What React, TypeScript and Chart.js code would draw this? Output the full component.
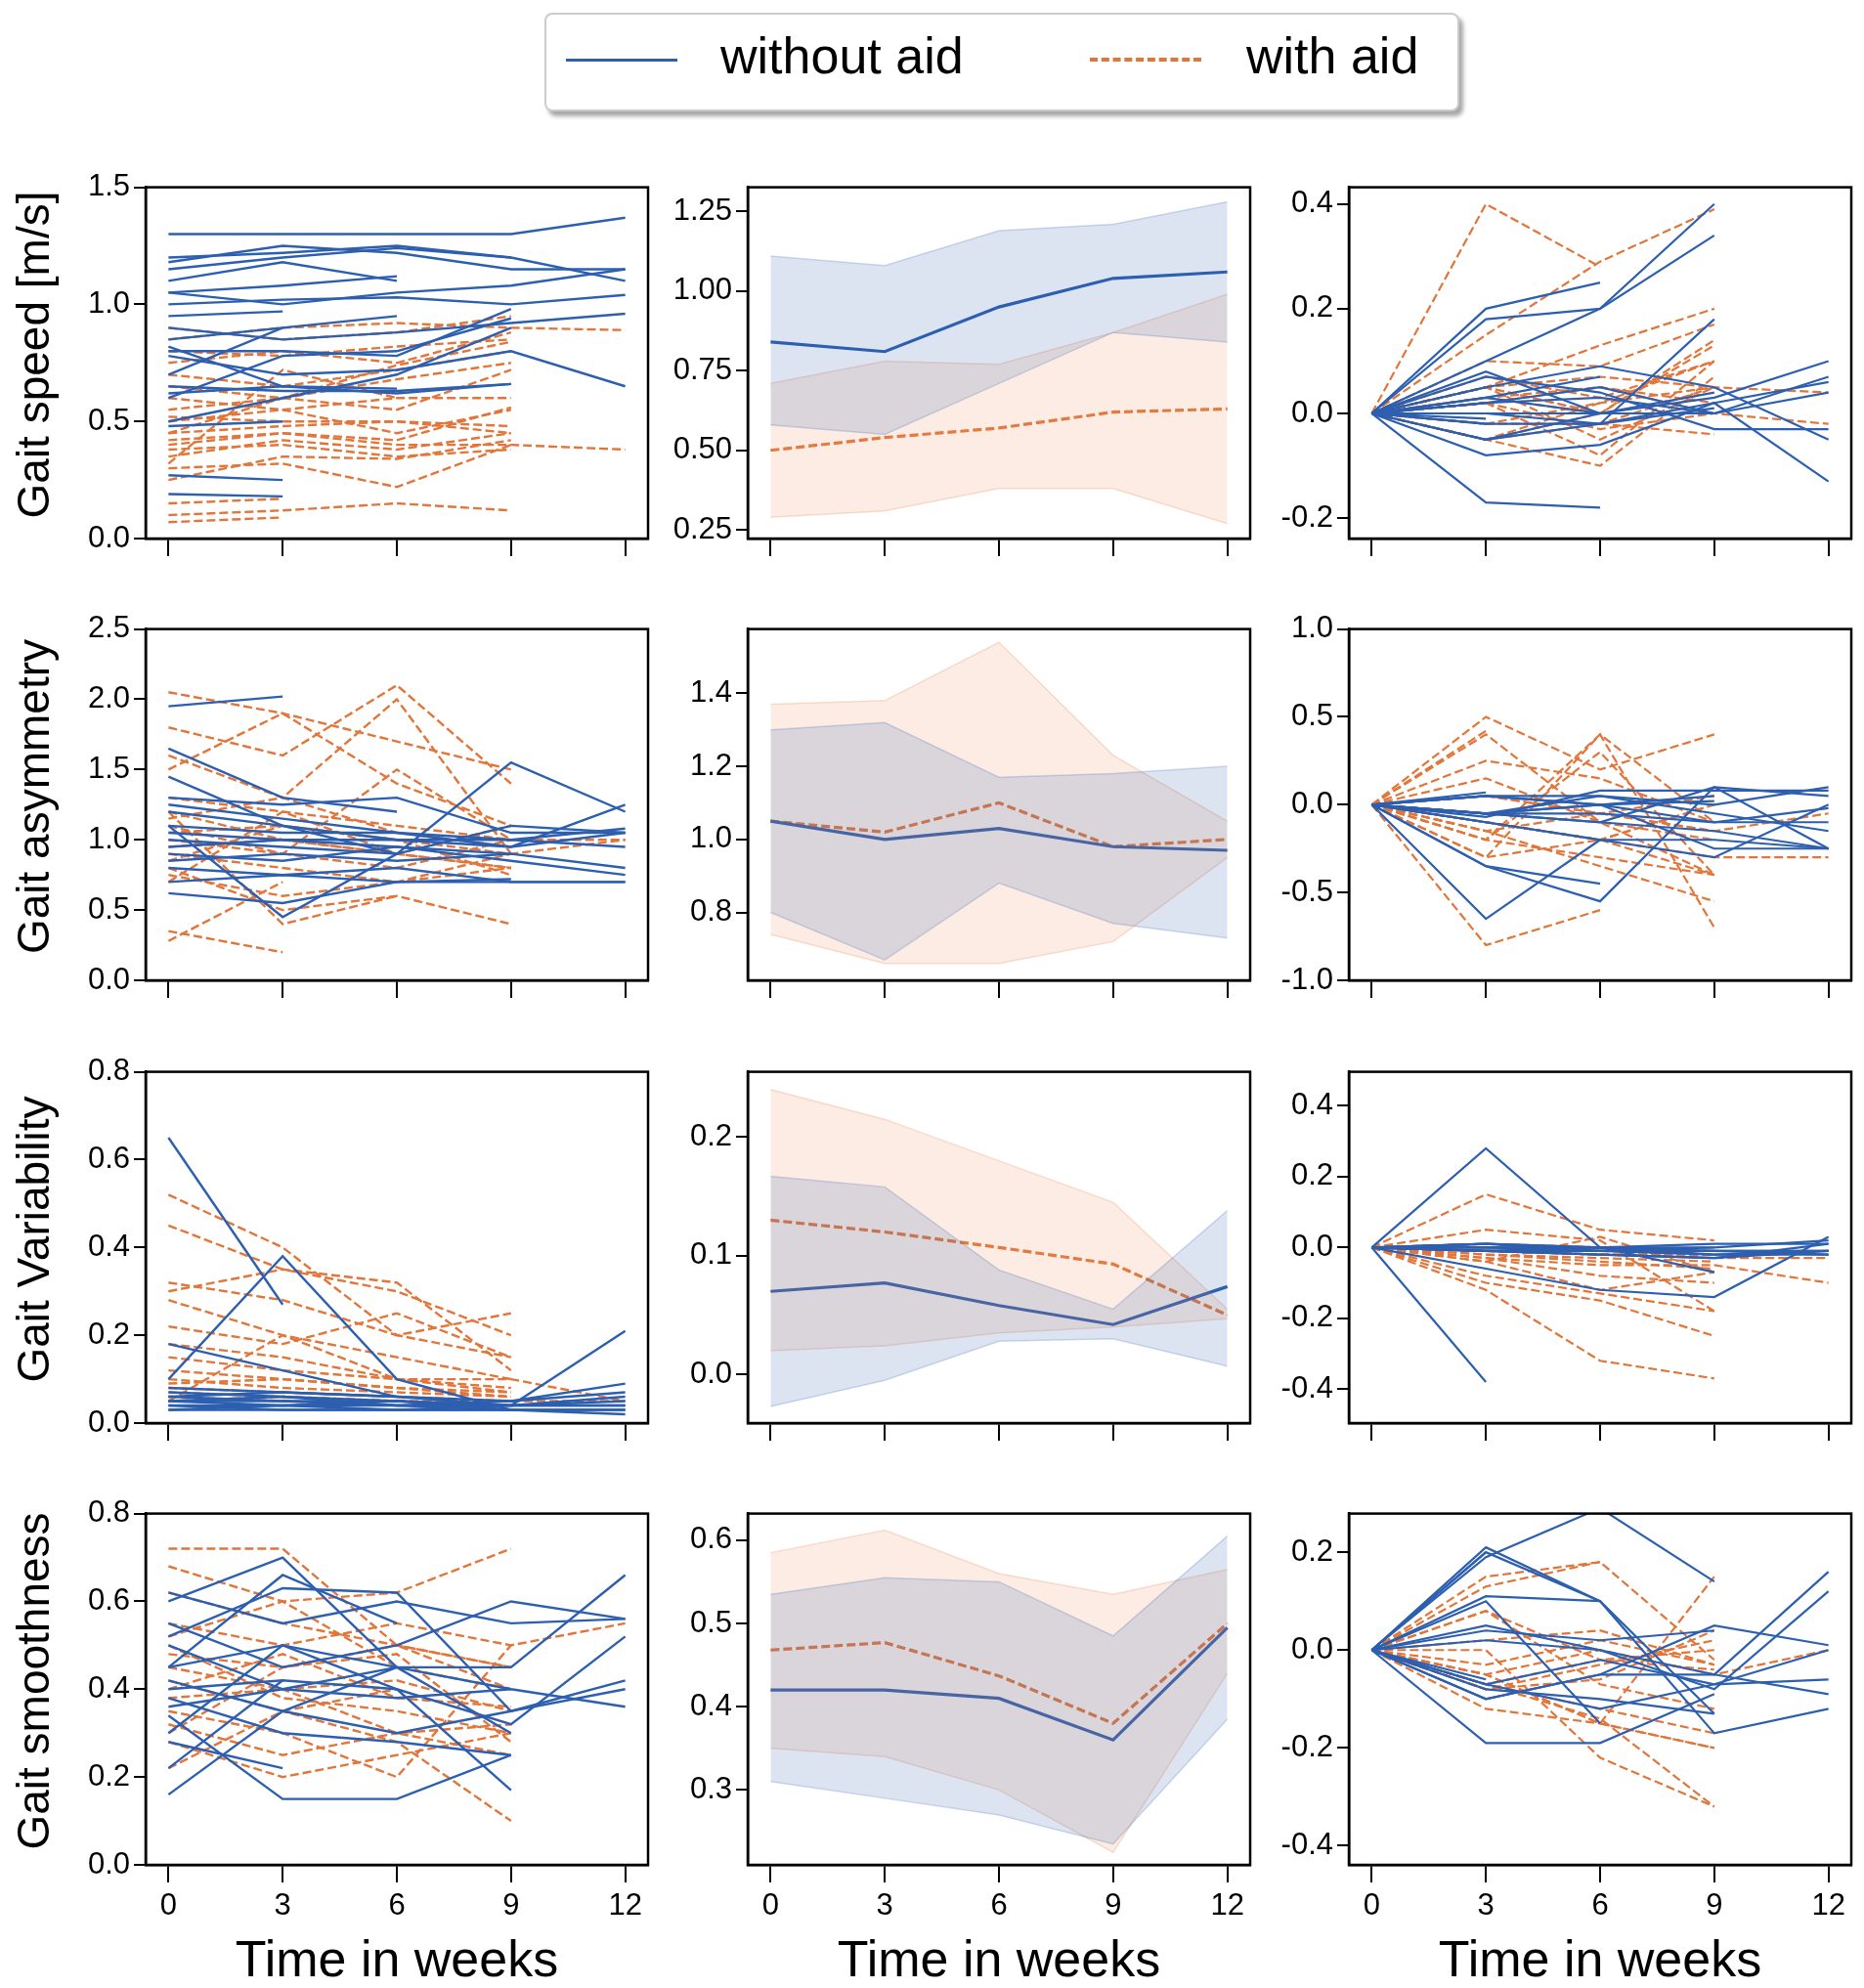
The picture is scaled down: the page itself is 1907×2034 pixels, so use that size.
import React, { useEffect, useRef } from "react";
import { Chart, registerables } from "chart.js";
Chart.register(...registerables);

const weeks = [0, 3, 6, 9, 12];
type Row = (number | null)[];

const speedBlue: Row[] = [
  [1.3,1.3,1.3,1.3,1.37],[1.2,1.22,1.25,1.2,null],[1.18,1.25,1.22,1.15,1.15],[1.15,1.2,1.24,1.2,1.1],
  [1.1,1.18,1.1,null,null],[1.05,1.08,1.12,null,null],[1.05,1.0,1.05,1.08,1.15],[1.0,1.02,1.03,1.0,1.04],
  [0.95,0.97,null,null,null],[0.9,0.85,0.88,0.92,0.96],[0.85,0.9,null,null,null],[0.8,0.8,0.78,0.98,null],
  [0.78,0.7,0.72,0.8,0.65],[0.65,0.63,0.63,0.66,null],[0.62,0.65,0.62,0.66,null],[0.5,0.6,0.7,0.9,null],
  [0.48,0.5,null,null,null],[0.27,0.25,null,null,null],[0.19,0.18,null,null,null],[0.7,0.9,0.95,null,null],
  [0.6,0.78,0.8,0.94,null],[0.82,0.65,0.64,null,null]];
const speedOrange: Row[] = [
  [0.9,0.85,0.88,0.95,null],[0.85,0.9,0.92,0.9,0.89],[0.8,0.78,0.82,0.85,null],[0.75,0.8,0.75,0.88,null],
  [0.7,0.65,0.72,0.8,null],[0.65,0.6,0.55,0.72,null],[0.6,0.55,0.6,0.6,null],[0.55,0.6,0.68,0.75,null],
  [0.52,0.5,0.5,0.48,null],[0.5,0.55,0.45,0.55,null],[0.45,0.48,0.5,0.45,null],[0.42,0.45,0.42,0.56,null],
  [0.4,0.45,0.4,0.4,0.38],[0.38,0.4,0.35,0.38,null],[0.35,0.42,0.38,0.45,null],[0.3,0.32,0.22,0.4,null],
  [0.25,0.35,0.34,0.42,null],[0.15,0.17,null,null,null],[0.1,0.12,0.15,0.12,null],[0.07,0.09,null,null,null],
  [0.32,0.72,0.6,null,null],[0.45,0.6,0.74,0.84,null]];
const asymBlue: Row[] = [
  [1.95,2.02,null,null,null],[1.65,1.3,1.2,null,null],[1.45,1.1,0.9,1.55,1.2],[1.3,1.25,1.3,1.05,1.05],
  [1.2,1.1,1.0,1.0,0.95],[1.1,1.05,1.05,1.0,1.08],[1.05,1.0,0.95,0.9,0.8],[1.0,0.95,0.9,1.1,1.05],
  [0.95,1.0,1.0,0.95,1.05],[0.9,0.85,0.95,0.85,0.75],[0.85,0.9,0.85,0.9,null],[0.8,0.75,0.8,0.7,0.7],
  [1.1,0.45,0.9,null,null],[0.7,0.75,0.7,0.72,null],[0.62,0.55,0.7,0.7,0.7],[1.25,1.15,1.05,0.95,1.25]];
const asymOrange: Row[] = [
  [2.05,1.9,1.7,1.5,null],[1.8,1.6,2.1,1.4,null],[1.6,1.3,2.0,0.9,null],[1.5,1.9,1.4,1.1,null],
  [1.3,1.2,1.1,1.0,1.0],[1.2,1.0,0.9,0.8,null],[1.1,0.9,1.5,1.0,null],[1.05,1.1,1.0,0.9,1.0],
  [1.0,0.9,0.8,1.0,null],[0.95,1.0,0.9,0.8,null],[0.9,0.8,0.7,0.9,null],[0.85,1.1,1.0,0.75,null],
  [0.8,0.5,0.6,0.4,null],[0.75,0.6,0.7,0.8,null],[0.7,1.2,0.9,1.1,null],[0.35,0.2,null,null,null],
  [0.28,0.7,null,null,null],[1.2,0.4,0.6,null,null],[1.15,1.3,1.05,0.95,null]];
const varBlue: Row[] = [
  [0.65,0.27,null,null,null],[0.1,0.38,0.1,0.03,null],[0.18,0.12,0.06,0.04,0.21],[0.08,0.07,0.06,0.05,0.09],
  [0.07,0.06,0.05,0.04,0.06],[0.06,0.05,0.05,0.04,0.05],[0.05,0.05,0.04,0.04,0.04],[0.05,0.04,0.05,0.03,0.03],
  [0.04,0.04,0.04,0.03,0.03],[0.04,0.03,0.03,0.03,0.02],[0.03,0.03,0.03,0.03,null],[0.06,0.07,0.06,null,null],
  [0.05,0.06,0.04,0.05,0.07],[0.03,0.04,0.03,0.04,0.04]];
const varOrange: Row[] = [
  [0.52,0.4,0.2,0.15,null],[0.45,0.35,0.3,0.2,null],[0.32,0.28,0.2,0.25,null],[0.3,0.35,0.32,0.12,null],
  [0.28,0.2,0.15,0.1,null],[0.22,0.18,0.25,0.15,null],[0.18,0.15,0.1,0.08,null],[0.15,0.12,0.1,0.1,0.05],
  [0.12,0.1,0.08,0.06,null],[0.1,0.08,0.07,0.06,null],[0.08,0.07,0.06,0.05,0.05],[0.07,0.06,0.05,0.05,null],
  [0.06,0.05,0.04,0.04,null],[0.05,0.06,0.05,0.04,null],[0.05,0.2,0.1,0.07,null],[0.09,0.1,0.08,0.07,null]];
const smoothBlue: Row[] = [
  [0.62,0.55,0.6,0.55,0.56],[0.6,0.7,0.45,null,null],[0.55,0.45,0.5,0.6,0.56],[0.52,0.63,0.62,0.35,0.4],
  [0.5,0.4,0.45,0.45,0.66],[0.45,0.5,0.45,0.4,0.36],[0.42,0.35,0.3,0.35,0.42],[0.4,0.42,0.4,0.32,0.52],
  [0.38,0.3,0.28,0.25,null],[0.36,0.4,0.38,0.4,null],[0.34,0.15,0.15,0.25,null],[0.3,0.5,0.4,0.17,null],
  [0.28,0.22,null,null,null],[0.22,0.42,null,null,null],[0.16,0.35,0.45,0.3,null],[0.45,0.66,0.55,null,null]];
const smoothOrange: Row[] = [
  [0.72,0.72,0.5,0.4,null],[0.68,0.6,0.62,0.72,null],[0.62,0.55,0.5,0.45,null],[0.55,0.5,0.55,0.5,0.55],
  [0.52,0.6,0.45,0.4,null],[0.5,0.38,0.35,0.3,null],[0.48,0.45,0.5,0.45,null],[0.45,0.4,0.3,0.25,null],
  [0.42,0.35,0.28,0.1,null],[0.4,0.48,0.38,0.36,null],[0.38,0.4,0.42,0.35,null],[0.35,0.3,0.2,0.5,null],
  [0.32,0.25,0.3,0.32,null],[0.3,0.45,0.48,0.28,null],[0.28,0.2,0.25,0.3,null],[0.22,0.35,0.4,null,null]];

// Group mean and band (col 2)
const speedBlueMean = [0.84,0.81,0.95,1.04,1.06], speedBlueHi = [1.11,1.08,1.19,1.21,1.28], speedBlueLo = [0.58,0.55,0.71,0.87,0.84];
const speedOrMean = [0.50,0.54,0.57,0.62,0.63], speedOrHi = [0.71,0.78,0.77,0.87,0.99], speedOrLo = [0.29,0.31,0.38,0.38,0.27];
const asymBlueMean = [1.05,1.0,1.03,0.98,0.97], asymBlueHi = [1.3,1.32,1.17,1.18,1.2], asymBlueLo = [0.8,0.67,0.88,0.77,0.73];
const asymOrMean = [1.05,1.02,1.10,0.98,1.0], asymOrHi = [1.37,1.38,1.54,1.23,1.05], asymOrLo = [0.74,0.66,0.66,0.72,0.95];
const varBlueMean = [0.07,0.077,0.058,0.042,0.074], varBlueHi = [0.167,0.158,0.088,0.055,0.138], varBlueLo = [-0.027,-0.005,0.028,0.03,0.007];
const varOrMean = [0.13,0.12,0.107,0.093,0.05], varOrHi = [0.24,0.215,0.18,0.145,0.055], varOrLo = [0.02,0.024,0.035,0.04,0.047];
const smBlueMean = [0.42,0.42,0.41,0.36,0.495], smBlueHi = [0.535,0.555,0.55,0.485,0.605], smBlueLo = [0.31,0.29,0.27,0.235,0.385];
const smOrMean = [0.468,0.477,0.437,0.38,0.50], smOrHi = [0.585,0.612,0.56,0.535,0.565], smOrLo = [0.35,0.34,0.3,0.225,0.44];

const rowLabels = ["Gait speed [m/s]", "Gait asymmetry", "Gait Variability", "Gait smoothness"];
const xLabel = "Time in weeks";
const xTicks = [0, 3, 6, 9, 12];

const BLUE = "#2d5fb0";
const ORANGE = "#e2763a";
const FONT = "'Liberation Sans', Arial, sans-serif";

const colLeft = [149, 765, 1380];
const rowTop = [175, 627, 1080, 1532];
const PW = 514, PH = 376;
const L = 150, R = 6, T = 6, B = 70;

type Axis = { min: number; max: number; step: number; dec: number };
const axes: Axis[][] = [
  [{ min: 0, max: 1.5, step: 0.5, dec: 1 }, { min: 0.223, max: 1.326, step: 0.25, dec: 2 }, { min: -0.239, max: 0.432, step: 0.2, dec: 1 }],
  [{ min: 0, max: 2.5, step: 0.5, dec: 1 }, { min: 0.614, max: 1.576, step: 0.2, dec: 1 }, { min: -1, max: 1, step: 0.5, dec: 1 }],
  [{ min: 0, max: 0.8, step: 0.2, dec: 1 }, { min: -0.041, max: 0.255, step: 0.1, dec: 1 }, { min: -0.496, max: 0.496, step: 0.2, dec: 1 }],
  [{ min: 0, max: 0.8, step: 0.2, dec: 1 }, { min: 0.21, max: 0.632, step: 0.1, dec: 1 }, { min: -0.439, max: 0.279, step: 0.2, dec: 1 }],
];

const individual: [Row[], Row[]][] = [
  [speedBlue, speedOrange], [asymBlue, asymOrange], [varBlue, varOrange], [smoothBlue, smoothOrange],
];
const groups = [
  [speedBlueMean, speedBlueHi, speedBlueLo, speedOrMean, speedOrHi, speedOrLo],
  [asymBlueMean, asymBlueHi, asymBlueLo, asymOrMean, asymOrHi, asymOrLo],
  [varBlueMean, varBlueHi, varBlueLo, varOrMean, varOrHi, varOrLo],
  [smBlueMean, smBlueHi, smBlueLo, smOrMean, smOrHi, smOrLo],
];

const pts = (r: (number | null)[]) => weeks.map((w, i) => ({ x: w, y: r[i] as any }));
const diff = (r: Row): Row => r.map((v) => (v == null || r[0] == null ? null : +(v - (r[0] as number)).toFixed(4)));

function lineDs(r: Row, color: string, dashed: boolean, width: number): any {
  return {
    data: pts(r), borderColor: color, borderWidth: width, borderDash: dashed ? [9, 4] : [],
    pointRadius: 0, fill: false, tension: 0, spanGaps: false,
  };
}

function buildDatasets(row: number, col: number): any[] {
  const [blues, oranges] = individual[row];
  if (col === 0) {
    return [...blues.map((r) => lineDs(r, BLUE, false, 2.4)), ...oranges.map((r) => lineDs(r, ORANGE, true, 2.4))];
  }
  if (col === 2) {
    return [...blues.map((r) => lineDs(diff(r), BLUE, false, 2.2)), ...oranges.map((r) => lineDs(diff(r), ORANGE, true, 2.2))];
  }
  const [bm, bh, bl, om, oh, ol] = groups[row];
  const band = (hi: number[], lo: number[], edge: string, fillc: string) => [
    { data: pts(hi), borderColor: edge, borderWidth: 1.5, pointRadius: 0, fill: false },
    { data: pts(lo), borderColor: edge, borderWidth: 1.5, pointRadius: 0, fill: "-1", backgroundColor: fillc },
  ];
  return [
    ...band(bh, bl, "rgba(45,95,176,0.22)", "rgba(45,95,176,0.17)"),
    ...band(oh, ol, "rgba(226,118,58,0.22)", "rgba(240,140,90,0.17)"),
    lineDs(bm, BLUE, false, 3.2),
    lineDs(om, ORANGE, true, 3.2),
  ];
}

const framePlugin = {
  id: "frame",
  afterDraw(chart: any) {
    const { ctx, chartArea: a } = chart;
    ctx.save();
    ctx.strokeStyle = "#000";
    ctx.lineWidth = 2.5;
    ctx.strokeRect(a.left, a.top, a.right - a.left, a.bottom - a.top);
    ctx.restore();
  },
};

function Panel({ row, col }: { row: number; col: number }) {
  const ref = useRef<HTMLCanvasElement>(null);
  useEffect(() => {
    const ax = axes[row][col];
    const bottom = row === 3;
    const chart = new Chart(ref.current!, {
      type: "line",
      data: { datasets: buildDatasets(row, col) },
      plugins: [framePlugin],
      options: {
        animation: false, responsive: false, devicePixelRatio: 1,
        layout: { autoPadding: false, padding: { top: T, right: R, left: 0, bottom: 0 } },
        plugins: { legend: { display: false }, tooltip: { enabled: false } },
        scales: {
          x: {
            type: "linear", min: -0.6, max: 12.6,
            afterBuildTicks: (s: any) => { s.ticks = xTicks.map((v) => ({ value: v })); },
            afterFit: (s: any) => { s.height = B; },
            grid: { drawOnChartArea: false, drawTicks: true, tickLength: 18, color: "#000", lineWidth: 2 },
            border: { display: true, color: "#000", width: 2.5 },
            ticks: {
              color: "#000", font: { family: FONT, size: 31 }, padding: 6, maxRotation: 0,
              callback: (v: any) => (bottom ? String(v) : ""),
            },
          },
          y: {
            type: "linear", min: ax.min, max: ax.max,
            afterFit: (s: any) => { s.width = L; },
            grid: { drawOnChartArea: false, drawTicks: true, tickLength: 12, color: "#000", lineWidth: 2 },
            border: { display: true, color: "#000", width: 2.5 },
            ticks: {
              stepSize: ax.step, includeBounds: false, color: "#000", font: { family: FONT, size: 31 }, padding: 4,
              callback: (v: any) => Number(v).toFixed(ax.dec),
            },
          },
        },
      } as any,
    });
    return () => chart.destroy();
  }, [row, col]);
  return (
    <canvas
      ref={ref}
      width={PW + L + R}
      height={PH + T + B}
      style={{ position: "absolute", left: colLeft[col] - L, top: rowTop[row] - T, width: PW + L + R, height: PH + T + B }}
    />
  );
}

export default function App() {
  const panels = [];
  for (let r = 0; r < 4; r++) for (let c = 0; c < 3; c++) panels.push(<Panel key={`${r}-${c}`} row={r} col={c} />);
  return (
    <div style={{ position: "absolute", left: 0, top: 0, width: 1907, height: 2034, background: "#fff", fontFamily: FONT, overflow: "hidden" }}>
      <div style={{
        position: "absolute", left: 557, top: 13, width: 936, height: 101, boxSizing: "border-box",
        border: "2px solid #ccc", borderRadius: 8, background: "#fff", boxShadow: "4px 5px 4px rgba(0,0,0,0.35)",
      }}>
        <div style={{ position: "absolute", left: 20, top: 45, width: 114, borderTop: `3px solid ${BLUE}` }} />
        <div style={{ position: "absolute", left: 178, top: 12, fontSize: 52, color: "#000" }}>without aid</div>
        <div style={{ position: "absolute", left: 556, top: 44, width: 114, borderTop: `4px dashed ${ORANGE}` }} />
        <div style={{ position: "absolute", left: 716, top: 12, fontSize: 52, color: "#000" }}>with aid</div>
      </div>
      {panels}
      {rowLabels.map((t, i) => (
        <div key={t} style={{
          position: "absolute", left: 34, top: rowTop[i] + PH / 2, fontSize: 46, color: "#000", whiteSpace: "nowrap",
          transform: "translate(-50%, -50%) rotate(-90deg)",
        }}>{t}</div>
      ))}
      {colLeft.map((x, i) => (
        <div key={i} style={{
          position: "absolute", left: x + PW / 2, top: 2004, fontSize: 52, color: "#000", whiteSpace: "nowrap",
          transform: "translate(-50%, -50%)",
        }}>{xLabel}</div>
      ))}
    </div>
  );
}
